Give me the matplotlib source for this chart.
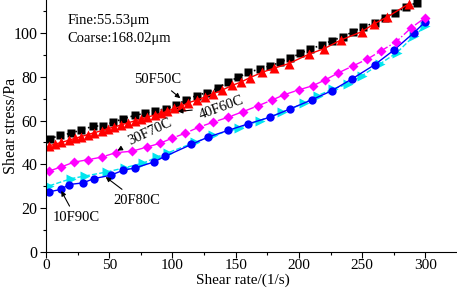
import matplotlib.pyplot as plt

plt.rcParams["font.family"] = ["Liberation Serif", "DejaVu Serif"]

# 50F50C
x_50 = [3, 11, 20, 28, 37, 45, 53, 61, 70, 78, 86, 95, 103, 111, 119, 127, 136, 144,
        152, 160, 169, 177, 185, 193, 201, 209, 218, 226, 235, 243, 251, 260, 268, 276, 285, 293]
y_50 = [51.7, 53.2, 54.2, 55.8, 57.3, 57.7, 59.2, 60.8, 62.3, 63.3, 64.5, 65.3, 67.1, 69.5,
        71.4, 72.7, 74.8, 77.7, 79.7, 82.0, 83.5, 84.9, 86.5, 88.5, 90.6, 92.6, 94.5, 96.4,
        98.3, 100.6, 102.7, 104.7, 106.9, 109.2, 111.8, 113.8]

# 40F60C
x_40 = [2, 7, 12, 18, 23, 28, 33, 38, 44, 49, 54, 59, 65, 70, 75, 80, 86, 91, 96, 101,
        107, 112, 119, 126, 132, 139, 147, 154, 161, 171, 180, 192, 208, 220, 233, 250,
        259, 270, 287]
y_40 = [48.4, 49.2, 50.0, 51.0, 51.9, 52.7, 53.6, 54.4, 55.4, 56.3, 57.1, 57.9, 59.0,
        59.8, 60.6, 61.5, 62.5, 63.3, 64.3, 65.5, 66.5, 68.0, 69.3, 70.8, 72.2, 73.8,
        76.0, 77.5, 79.5, 82.0, 83.8, 86.0, 90.3, 92.8, 96.7, 100.6, 104.0, 107.3, 113.3]

# 30F70C
x_30 = [2.6, 12, 22, 33, 44, 55, 68, 80, 90, 100, 110, 121, 132, 144, 156, 168, 179,
        188, 200, 211, 221, 231, 243, 254, 265, 277, 289, 300]
y_30 = [37.0, 38.8, 41.0, 42.1, 43.3, 45.3, 46.0, 47.9, 49.6, 52.0, 54.2, 57.0, 59.2,
        61.5, 64.1, 66.8, 69.4, 71.7, 74.0, 75.9, 78.6, 81.7, 85.0, 88.0, 91.8, 96.0,
        102.4, 107.0]

# 20F80C
x_20 = [2.6, 20, 31, 48, 62.5, 77, 87.6, 96.5, 118, 132, 153, 169, 187, 204, 215, 227,
        239, 250, 264, 277.5, 291, 300]
y_20 = [30.2, 33.5, 34.7, 36.5, 38.5, 40.6, 43.3, 45.3, 50.1, 53.2, 56.5, 60.0, 63.8,
        67.9, 71.4, 74.4, 76.7, 80.5, 85.8, 91.0, 98.6, 103.2]

# 10F90C
x_10 = [2, 12, 18, 29, 38, 51, 61, 70, 85, 94, 115, 128, 144, 160, 177, 193, 210, 226,
        242, 260, 275, 291, 300]
y_10 = [27.4, 28.6, 30.8, 31.5, 33.5, 35.0, 37.3, 38.3, 41.0, 43.6, 49.1, 52.4, 55.5,
        58.5, 61.5, 65.3, 69.4, 73.6, 79.0, 85.5, 92.1, 100.1, 105.1]

fig = plt.figure(figsize=(4.57, 2.92), dpi=100)
ax = fig.add_axes([0.1007, 0.137, 0.8993, 0.863])

ax.plot(x_20, y_20, ls="--", color="#00e5ee", lw=1, marker=">", ms=6.5, mec="none")
ax.plot(x_10, y_10, ls="-", color="#0000ff", lw=1, marker="o", ms=6, mec="none")
ax.plot(x_30, y_30, ls="-.", color="#ff00ff", lw=1, marker="D", ms=5.5, mec="none")
ax.plot(x_50, y_50, ls=":", color="black", lw=1.2, marker="s", ms=5.5, mec="none")
ax.plot(x_40, y_40, ls="-", color="red", lw=1, marker="^", ms=6.5, mec="none")

ax.set_xlim(0, 325)
ax.set_ylim(0, 115)
ax.set_xticks([0, 50, 100, 150, 200, 250, 300])
ax.set_xticks([25, 75, 125, 175, 225, 275], minor=True)
ax.set_yticks([0, 20, 40, 60, 80, 100])
ax.set_yticks([10, 30, 50, 70, 90, 110], minor=True)
ax.tick_params(which="major", direction="out", length=4, width=0.8, labelsize=11.5, pad=2)
ax.tick_params(axis="x", which="major", labelsize=11, pad=1)
ax.tick_params(which="minor", direction="out", length=2.5, width=0.8)
ax.spines["top"].set_visible(False)
ax.spines["right"].set_visible(False)

ax.set_xlabel("Shear rate/(1/s)", fontsize=11)
ax.set_ylabel("Shear stress/Pa", fontsize=11.5)
ax.xaxis.set_label_coords(0.48, -0.087)
ax.yaxis.set_label_coords(-0.066, 0.5)

ax.text(17, 104, "Fine:55.53\u03bcm", fontsize=10.5)
ax.text(17, 96, "Coarse:168.02\u03bcm", fontsize=10.5)

arrow = dict(arrowstyle="-|>", color="black", lw=0.8, mutation_scale=7)
ax.annotate("50F50C", xy=(107.9, 69.4), xytext=(70, 77), fontsize=10.5, arrowprops=arrow)
ax.annotate("40F60C", xy=(102, 64), xytext=(120, 61), fontsize=10.5, rotation=20,
            arrowprops=arrow)
ax.annotate("30F70C", xy=(54.6, 45.6), xytext=(63, 49), fontsize=10.5, rotation=25,
            arrowprops=arrow)
ax.annotate("20F80C", xy=(45.4, 35), xytext=(53, 22), fontsize=10.5, arrowprops=arrow)
ax.annotate("10F90C", xy=(11, 29), xytext=(5, 14), fontsize=10.5, arrowprops=arrow)

fig.savefig("out.png", dpi=100)
